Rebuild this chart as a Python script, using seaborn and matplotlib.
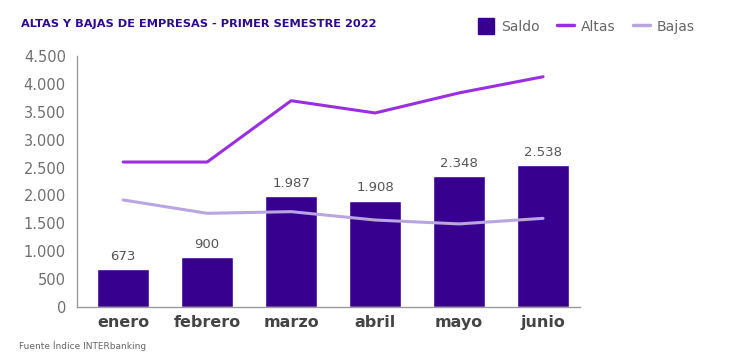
import matplotlib
matplotlib.use('Agg')
import matplotlib.pyplot as plt
import seaborn as sns
import pandas as pd
from matplotlib.ticker import FuncFormatter
from matplotlib.patches import Patch
from matplotlib.lines import Line2D

# datos
meses = ['enero', 'febrero', 'marzo', 'abril', 'mayo', 'junio']
saldo = [673, 900, 1987, 1908, 2348, 2538]
altas = [2600, 2600, 3700, 3480, 3840, 4130]
bajas = [1920, 1680, 1710, 1560, 1490, 1590]

COLOR_SALDO = '#37008f'
COLOR_ALTAS = '#9a2fe0'
COLOR_BAJAS = '#b9a5df'
COLOR_TITULO = '#2e0c8c'

sns.set_theme(style='white')
plt.rcParams['font.family'] = ['DejaVu Sans']

df = pd.DataFrame({'mes': meses, 'saldo': saldo, 'altas': altas, 'bajas': bajas})

fig = plt.figure(figsize=(7.3, 3.62), dpi=100)
ax = fig.add_axes([0.1055, 0.152, 0.689, 0.693])

sns.barplot(data=df, x='mes', y='saldo', color=COLOR_SALDO, width=0.62,
            saturation=1, ax=ax)
sns.lineplot(x=range(len(meses)), y=df['altas'], color=COLOR_ALTAS, lw=2.2, ax=ax)
sns.lineplot(x=range(len(meses)), y=df['bajas'], color=COLOR_BAJAS, lw=2.2, ax=ax)

miles = lambda v: f'{int(v):,}'.replace(',', '.')

for i, v in enumerate(saldo):
    ax.text(i, v + 110, miles(v), ha='center', va='bottom', fontsize=9.5,
            color='#555555')

ax.set_xlim(-0.55, 5.44)
ax.set_ylim(0, 4500)
ax.set_yticks(range(0, 4501, 500))
ax.yaxis.set_major_formatter(FuncFormatter(lambda v, p: miles(v)))
ax.set_xlabel('')
ax.set_ylabel('')
ax.tick_params(axis='y', labelsize=10.5, labelcolor='#707070', length=0, pad=8)
ax.tick_params(axis='x', labelsize=11.5, labelcolor='#444444', length=0, pad=6)
for lab in ax.get_xticklabels():
    lab.set_fontweight('bold')

sns.despine(ax=ax)
for s in ['left', 'bottom']:
    ax.spines[s].set_color('#999999')
    ax.spines[s].set_linewidth(1)

fig.text(0.029, 0.935, 'ALTAS Y BAJAS DE EMPRESAS - PRIMER SEMESTRE 2022',
         fontsize=8.2, fontweight='heavy', color=COLOR_TITULO, va='center')
fig.text(0.026, 0.045, 'Fuente Índice INTERbanking', fontsize=6.5,
         color='#666666', va='center')

handles = [Patch(color=COLOR_SALDO),
           Line2D([], [], color=COLOR_ALTAS, lw=2.5),
           Line2D([], [], color=COLOR_BAJAS, lw=2.5)]
fig.legend(handles, ['Saldo', 'Altas', 'Bajas'], loc='center',
           bbox_to_anchor=(0.803, 0.928), ncol=3, frameon=False,
           fontsize=10, labelcolor='#666666', handlelength=1.2,
           handleheight=1.3, handletextpad=0.5, columnspacing=1.25)

fig.savefig('out.png', dpi=100)
